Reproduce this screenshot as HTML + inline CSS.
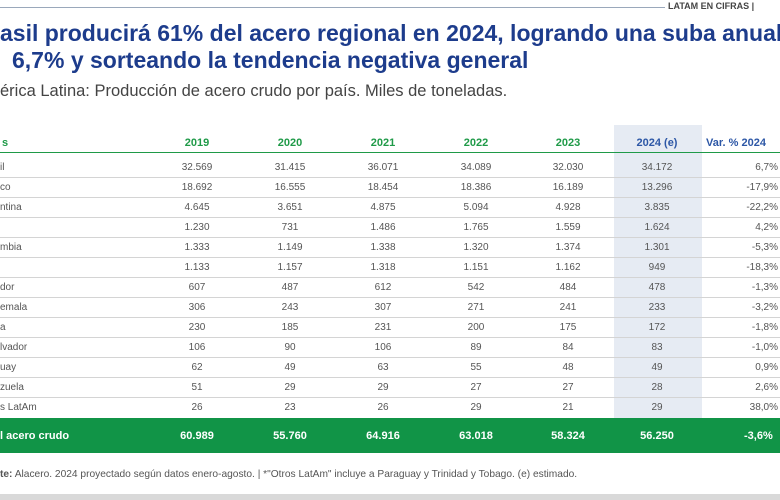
<!DOCTYPE html>
<html><head><meta charset="utf-8"><style>
body{margin:0;width:780px;height:500px;background:#fff;position:relative;overflow:hidden;font-family:"Liberation Sans",sans-serif}
.a{position:absolute;white-space:nowrap}
.t{color:#1d3c8c;font-weight:bold;font-size:23px;left:0}
.r{position:absolute;left:0;width:780px;height:20px;border-bottom:1px solid #d4d4d4;font-size:10px;color:#555}
.r span{position:absolute;top:5px;width:80px;text-align:center}
.h span{color:#1f9a48;font-weight:bold;font-size:11px}
</style></head><body>
<div class="a" style="left:0;top:7px;width:665px;height:1px;background:#9aa8bb"></div>
<div class="a" style="left:668px;top:1px;font-size:9px;font-weight:bold;color:#444">LATAM EN CIFRAS |</div>
<div class="a t" style="top:20px">asil producirá 61% del acero regional en 2024, logrando una suba anual</div>
<div class="a t" style="top:47px;left:12px">6,7% y sorteando la tendencia negativa general</div>
<div class="a" style="left:0;top:82px;font-size:16.5px;color:#444">érica Latina: Producción de acero crudo por país. Miles de toneladas.</div>
<div class="a" style="left:614px;top:125px;width:88px;height:293px;background:#e6ebf3"></div>
<div class="r h" style="top:132px;border-bottom:1.5px solid #1f9a48"><span style="left:0;width:10px;color:#1f9a48">s</span><span style="left:157px">2019</span><span style="left:250px">2020</span><span style="left:343px">2021</span><span style="left:436px">2022</span><span style="left:528px">2023</span><span style="left:617px;color:#2d57a6">2024 (e)</span><span style="left:706px;width:90px;text-align:left;color:#2d57a6">Var. % 2024</span></div>
<div id="rows"></div>
<div class="a" style="left:0;top:418px;width:780px;height:35px;background:#119447;color:#fff;font-weight:bold;font-size:11px">
<span class="a" style="left:0;top:12px">l acero crudo</span>
<span class="a" style="left:157px;top:12px;width:80px;text-align:center">60.989</span>
<span class="a" style="left:250px;top:12px;width:80px;text-align:center">55.760</span>
<span class="a" style="left:343px;top:12px;width:80px;text-align:center">64.916</span>
<span class="a" style="left:436px;top:12px;width:80px;text-align:center">63.018</span>
<span class="a" style="left:528px;top:12px;width:80px;text-align:center">58.324</span>
<span class="a" style="left:617px;top:12px;width:80px;text-align:center">56.250</span>
<span class="a" style="left:744px;top:12px">-3,6%</span></div>
<div class="a" style="left:0;top:469px;font-size:10.2px;color:#555"><b>te:</b> Alacero. 2024 proyectado según datos enero-agosto. | *"Otros LatAm" incluye a Paraguay y Trinidad y Tobago. (e) estimado.</div>
<div class="a" style="left:0;top:494px;width:780px;height:6px;background:#d9d9d9"></div>
<script>
var d=[["il","32.569","31.415","36.071","34.089","32.030","34.172","6,7%"],["co","18.692","16.555","18.454","18.386","16.189","13.296","-17,9%"],["ntina","4.645","3.651","4.875","5.094","4.928","3.835","-22,2%"],["","1.230","731","1.486","1.765","1.559","1.624","4,2%"],["mbia","1.333","1.149","1.338","1.320","1.374","1.301","-5,3%"],["","1.133","1.157","1.318","1.151","1.162","949","-18,3%"],["dor","607","487","612","542","484","478","-1,3%"],["emala","306","243","307","271","241","233","-3,2%"],["a","230","185","231","200","175","172","-1,8%"],["lvador","106","90","106","89","84","83","-1,0%"],["uay","62","49","63","55","48","49","0,9%"],["zuela","51","29","29","27","27","28","2,6%"],["s LatAm","26","23","26","29","21","29","38,0%"]];
var x=[157,250,343,436,528,617],h="";
d.forEach(function(r,i){h+='<div class="r" style="top:'+(157+i*20)+'px;'+(i==12?'border-bottom:none':'')+'"><span style="left:0;text-align:left">'+r[0]+'</span>';
for(var j=0;j<6;j++)h+='<span style="left:'+x[j]+'px">'+r[j+1]+'</span>';
h+='<span style="left:698px;text-align:right">'+r[7]+'</span></div>';});
document.getElementById("rows").innerHTML=h;
</script>
</body></html>
